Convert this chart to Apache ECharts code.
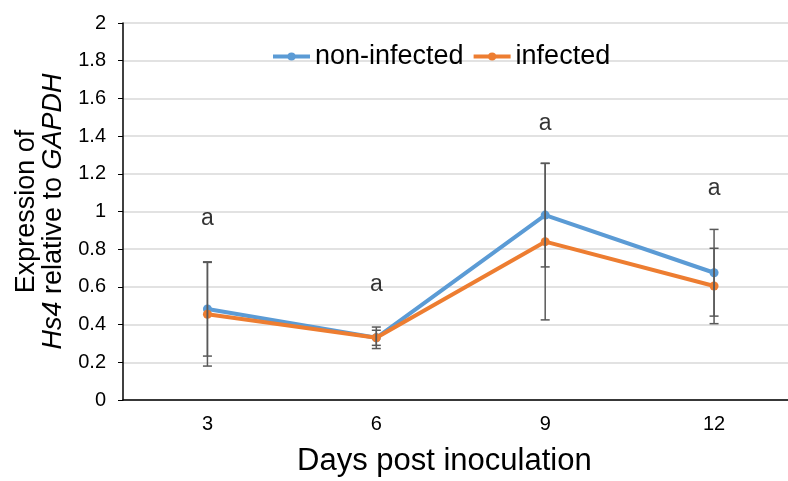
<!DOCTYPE html>
<html>
<head>
<meta charset="utf-8">
<script src="https://cdn.jsdelivr.net/npm/echarts@6/dist/echarts.min.js"></script>
<style>
	html, body { margin: 0; padding: 0; background: #fff; }
	#main { width: 788px; height: 481px; }
</style>
</head>
<body>
<div id="main"></div>
<script>
// days post inoculation
var days = ['3', '6', '9', '12'];
var nonInfected = [0.483, 0.33, 0.981, 0.675];
var infected = [0.455, 0.33, 0.84, 0.605];
// error bar half widths
var nonInfectedErr = [0.25, 0.057, 0.275, 0.23];
var infectedErr = [0.275, 0.04, 0.415, 0.2];
// significance letters and their heights
var letters = ['a', 'a', 'a', 'a'];
var letterY = [0.96, 0.61, 1.464, 1.123];

function errData(vals, errs) {
	var out = [];
	for (var i = 0; i < vals.length; i++) {
		out.push([i, vals[i] - errs[i], vals[i] + errs[i]]);
	}
	return out;
}

function renderErr(params, api) {
	var lo = api.coord([api.value(0), api.value(1)]);
	var hi = api.coord([api.value(0), api.value(2)]);
	var w = 4.5;
	var st = { stroke: '#595959', lineWidth: 1.5 };
	return {
		type: 'group',
		children: [
			{ type: 'line', shape: { x1: lo[0], y1: lo[1], x2: hi[0], y2: hi[1] }, style: st },
			{ type: 'line', shape: { x1: lo[0] - w, y1: lo[1], x2: lo[0] + w, y2: lo[1] }, style: st },
			{ type: 'line', shape: { x1: hi[0] - w, y1: hi[1], x2: hi[0] + w, y2: hi[1] }, style: st }
		]
	};
}

var chart = echarts.init(document.getElementById('main'));
var font = 'Liberation Sans, Arial, sans-serif';

var option = {
	animation: false,
	textStyle: { fontFamily: font },
	grid: { left: 123, right: -10.5, top: 23, bottom: 81, outerBoundsMode: 'none', containLabel: false },
	legend: {
		top: 38,
		left: 266,
		itemWidth: 37,
		itemHeight: 10,
		itemGap: 8,
		lineStyle: { width: 4 },
		textStyle: { fontSize: 27, color: '#000', fontFamily: font },
		data: ['non-infected', 'infected']
	},
	xAxis: {
		type: 'category',
		data: days,
		boundaryGap: true,
		axisLine: { lineStyle: { color: '#000', width: 1.5 } },
		axisTick: { alignWithLabel: true, inside: true, length: 5, lineStyle: { color: '#000' } },
		axisLabel: { fontSize: 20, color: '#000', margin: 14 }
	},
	yAxis: {
		type: 'value',
		min: 0,
		max: 2,
		interval: 0.2,
		name: 'Expression of\n{i|Hs4} relative to {i|GAPDH}',
		nameLocation: 'middle',
		nameRotate: 90,
		nameGap: 50,
		nameTextStyle: {
			fontSize: 27,
			color: '#000',
			lineHeight: 27,
			rich: {
				i: { fontStyle: 'italic', fontSize: 27, color: '#000', lineHeight: 27 }
			}
		},
		axisLine: { show: true, lineStyle: { color: '#000', width: 1.5 } },
		axisTick: { show: true, length: 5, lineStyle: { color: '#000' } },
		axisLabel: {
			fontSize: 20,
			color: '#000',
			margin: 17,
			formatter: function (v) { return String(Math.round(v * 10) / 10); }
		},
		splitLine: { lineStyle: { color: '#d9d9d9', width: 1.5 } }
	},
	graphic: [{
		type: 'text',
		left: 297,
		top: 446,
		style: { text: 'Days post inoculation', fontSize: 31, fill: '#000', fontFamily: font }
	}],
	series: [
		{
			name: 'non-infected',
			type: 'line',
			data: nonInfected,
			symbol: 'circle',
			symbolSize: 9,
			lineStyle: { width: 4, color: '#5b9bd5' },
			itemStyle: { color: '#5b9bd5' },
			z: 3
		},
		{
			name: 'infected',
			type: 'line',
			data: infected,
			symbol: 'circle',
			symbolSize: 9,
			lineStyle: { width: 4, color: '#ed7d31' },
			itemStyle: { color: '#ed7d31' },
			z: 4
		},
		{
			type: 'custom',
			renderItem: renderErr,
			data: errData(nonInfected, nonInfectedErr),
			z: 5
		},
		{
			type: 'custom',
			renderItem: renderErr,
			data: errData(infected, infectedErr),
			z: 5
		},
		{
			type: 'scatter',
			symbolSize: 0,
			data: letterY.map(function (v, i) { return [i, v]; }),
			label: {
				show: true,
				position: 'inside',
				fontSize: 23,
				color: '#000',
				textBorderWidth: 0,
				formatter: function (p) { return letters[p.dataIndex]; }
			},
			z: 6
		}
	]
};

chart.setOption(option);
</script>
</body>
</html>
